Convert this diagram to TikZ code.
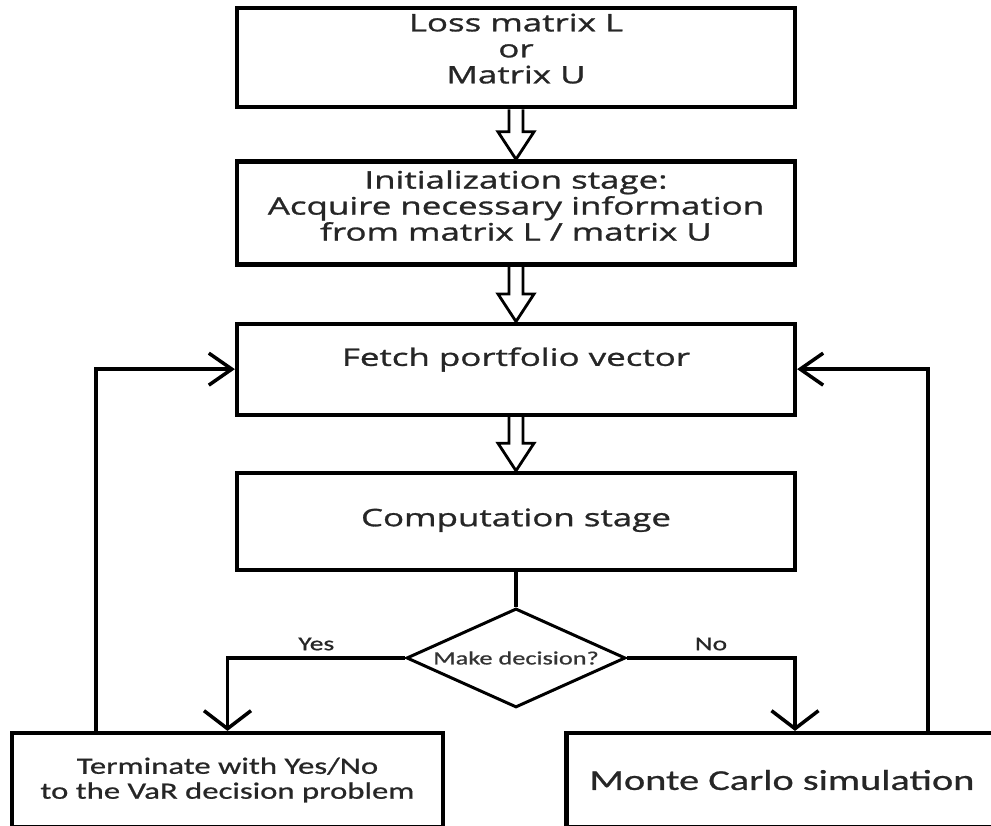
\documentclass[tikz,border=0pt]{standalone}
\usepackage{fontspec}
\newfontfamily\boxfont[FakeStretch=1.45,FakeBold=1.2]{Open Sans}
\newfontfamily\calfont[FakeStretch=1.4,FakeBold=0.8]{Carlito}
\usetikzlibrary{shapes.geometric,arrows.meta,positioning,calc}

% open block arrow between two stacked boxes
\newcommand{\hollowarrow}[2]{%
  \draw[hollow] ($(#1.south)+(-0.14,0)$) -- ($(#2.north)+(-0.14,0.55)$)
    -- ($(#2.north)+(-0.36,0.55)$) -- (#2.north)
    -- ($(#2.north)+(0.36,0.55)$) -- ($(#2.north)+(0.14,0.55)$)
    -- ($(#1.south)+(0.14,0)$);}

\begin{document}
\begin{tikzpicture}[
    box/.style={rectangle, draw, line width=2.4pt, minimum width=11.16cm, align=center, text depth=0.36cm, text=black!85, font=\boxfont\fontsize{13.7}{14.8}\selectfont},
    decision/.style={diamond, draw, line width=1.7pt, aspect=2.2, inner sep=0pt, minimum width=4.38cm, minimum height=1.98cm, text=black!80, font=\calfont\fontsize{10.7}{12}\selectfont},
    endbox/.style={rectangle, draw, line width=2.4pt, minimum width=8.62cm, minimum height=1.88cm, align=center, text=black!85},
    hollow/.style={line width=1.6pt, line join=miter},
    line/.style={line width=2pt},
    arrow/.style={line width=2pt, -{Straight Barb[length=0.46cm, width=0.64cm]}},
    drop/.style={line width=2pt, -{Straight Barb[length=0.36cm, width=0.94cm]}},
    lbl/.style={text=black!85, font=\calfont\fontsize{11.2}{13}\selectfont}
]
    \useasboundingbox (0,0) rectangle (19.82,-16.5);

    % Input
    \node[box, minimum height=1.86cm] (loss) at (10.32,-1.15) {Loss matrix L\\or\\Matrix U};

    % Stages
    \node[box, minimum height=2.06cm, text depth=0.3cm, below=1.0cm of loss] (init) {Initialization stage:\\Acquire necessary information\\from matrix L / matrix U};
    \node[box, minimum height=1.82cm, text depth=0.5cm, below=1.1cm of init] (fetch) {Fetch portfolio vector};
    \node[box, minimum height=1.94cm, text depth=0.16cm, below=1.08cm of fetch] (comp) {Computation stage};

    % Decision
    \node[decision, below=0.7cm of comp] (dec) {Make decision?};

    % Outcomes
    \node[endbox, font=\calfont\fontsize{13.3}{14.2}\selectfont] (term) at (4.55,-15.6) {Terminate with Yes/No\\to the VaR decision problem};
    \node[endbox, font=\calfont\fontsize{16.4}{18}\selectfont] (mc) at (15.64,-15.6) {Monte Carlo simulation};

    % Arrows
    \hollowarrow{loss}{init}
    \hollowarrow{init}{fetch}
    \hollowarrow{fetch}{comp}

    \draw[line] (comp) -- (dec);
    \draw[drop] (dec.west) -| node[lbl, pos=0.25, above] {Yes} (term.north);
    \draw[drop] (dec.east) -| node[lbl, pos=0.25, above] {No} ([xshift=0.26cm]mc.north);

    \draw[arrow] ([xshift=-2.63cm]term.north) |- (fetch.west);
    \draw[arrow] ([xshift=2.92cm]mc.north) |- (fetch.east);
\end{tikzpicture}
\end{document}
